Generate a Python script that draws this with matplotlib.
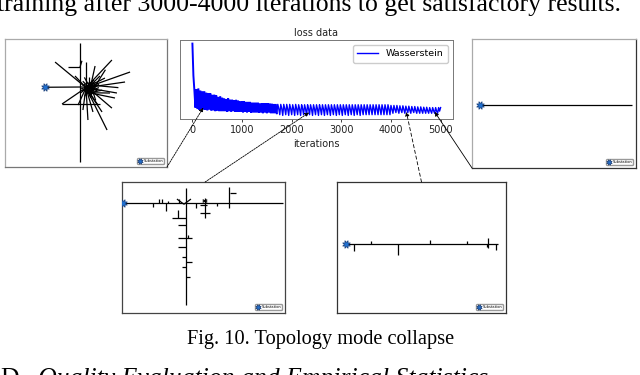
import matplotlib
matplotlib.use("Agg")
import matplotlib.pyplot as plt
from matplotlib.patches import ConnectionPatch

# ---------------- data ----------------
iterations = list(range(0, 5001, 20))
# dense, rapidly oscillating part (iterations 0 .. 1700)
loss_early = [
    1.00, 0.55, 0.34, 0.10,
    0.36, 0.08, 0.37, 0.07, 0.34, 0.08, 0.33, 0.07, 0.33, 0.07,
    0.31, 0.06, 0.30, 0.07, 0.30, 0.06, 0.28, 0.06, 0.28, 0.05,
    0.27, 0.06, 0.25, 0.05, 0.26, 0.05, 0.24, 0.05, 0.23, 0.05,
    0.22, 0.04, 0.23, 0.05, 0.21, 0.04, 0.21, 0.05, 0.20, 0.04,
    0.21, 0.04, 0.20, 0.04, 0.19, 0.04, 0.19, 0.03, 0.19, 0.04,
    0.18, 0.03, 0.18, 0.04, 0.18, 0.03, 0.17, 0.03, 0.17, 0.03,
    0.17, 0.03, 0.17, 0.03, 0.16, 0.03, 0.16, 0.02, 0.16, 0.03,
    0.16, 0.02, 0.16, 0.03, 0.155, 0.02, 0.155, 0.02, 0.15, 0.02,
    0.15, 0.02,
]
# comb-like part (iterations 1720 .. 5000)
loss_late = [
    0.145, 0.085, 0.00, 0.145, 0.085, -0.01, 0.145, 0.085, 0.00, 0.145, 0.08, -0.01,
    0.145, 0.085, 0.00, 0.14, 0.08, -0.01, 0.145, 0.085, 0.00, 0.14, 0.08, -0.01,
    0.14, 0.085, 0.00, 0.14, 0.08, -0.01, 0.14, 0.085, 0.00, 0.14, 0.08, -0.01,
    0.14, 0.08, 0.00, 0.14, 0.08, -0.01, 0.14, 0.085, 0.00, 0.14, 0.08, -0.01,
    0.14, 0.08, 0.00, 0.14, 0.08, -0.01, 0.14, 0.08, 0.00, 0.14, 0.08, -0.01,
    0.14, 0.08, 0.00, 0.14, 0.08, -0.01, 0.14, 0.08, 0.00, 0.14, 0.08, -0.01,
    0.14, 0.08, 0.00, 0.14, 0.08, -0.01, 0.14, 0.08, 0.00, 0.14, 0.08, -0.01,
    0.14, 0.08, 0.00, 0.14, 0.08, 0.00, 0.14, 0.08, 0.00, 0.14, 0.08, 0.00,
    0.14, 0.08, 0.00, 0.14, 0.08, 0.00, 0.14, 0.08, 0.00, 0.14, 0.08, 0.00,
    0.14, 0.08, 0.00, 0.14, 0.08, 0.00,
    0.13, 0.075, 0.02, 0.13, 0.075, 0.03, 0.13, 0.07, 0.02, 0.125, 0.07, 0.03,
    0.125, 0.07, 0.02, 0.12, 0.07, 0.03, 0.12, 0.065, 0.02, 0.115, 0.065, 0.03,
    0.115, 0.06, 0.02, 0.11, 0.06, 0.02, 0.11, 0.06, 0.02, 0.105, 0.06, 0.02,
    0.105, 0.055, 0.02, 0.10, 0.055, 0.02, 0.10, 0.055, 0.02, 0.10, 0.05, 0.02,
    0.10, 0.05, 0.10,
]
loss = loss_early + loss_late
split = len(loss_early)
x_ticks = [0, 1000, 2000, 3000, 4000, 5000]

arrow_iters = [220, 2350, 4310, 4880]
arrow_loss = [0.10, 0.03, 0.04, 0.04]

# panel graphs (coordinates in each panel's 0-100 space)
burst_star = (24.7, 62.3)
burst_segments = [
    (24.7, 62.3, 48.1, 62.5), (46.3, 96.9, 46.3, 3.9),
    (50, 62, 30.9, 82.0), (50, 62, 66.0, 83.6), (50, 62, 77.2, 74.2),
    (50, 62, 74.1, 66.4), (50, 62, 69.1, 57.8), (50, 62, 63.0, 28.9),
    (50, 62, 54.3, 43.0), (50, 62, 51.2, 36.7), (50, 62, 57.4, 48.4),
    (53, 64, 58.6, 71.1), (53, 64, 55.6, 78.9), (50, 62, 50.0, 82.0),
    (53, 64, 61.7, 69.5), (52, 58, 64.8, 57.8), (52, 58, 67.9, 53.9),
    (52, 58, 59.9, 43.0), (50, 62, 48.1, 44.5), (50, 62, 45.1, 48.4),
    (50, 62, 43.2, 71.1), (53, 64, 70.0, 62.0), (52, 58, 60.0, 60.0),
    (53, 64, 56.0, 52.0), (50, 62, 55.0, 68.0), (52, 58, 58.0, 65.0),
    (53, 64, 53.0, 56.0), (50, 62, 47.0, 58.0), (52, 58, 52.0, 70.0),
    (50, 62, 57.0, 60.0), (52, 58, 54.0, 66.0), (53, 64, 49.0, 55.0),
    (49, 60, 56.0, 63.0), (51, 66, 57.0, 59.0), (48, 64, 55.0, 57.0),
    (50, 57, 54.0, 67.0), (47, 61, 56.0, 66.0), (52, 62, 48.0, 67.0),
    (49, 65, 53.0, 54.0), (55, 60, 47.0, 60.0), (51, 59, 58.0, 62.0),
    (53, 61, 49.0, 70.0), (55, 62, 62.0, 76.0), (54, 59, 66.0, 46.0),
    (35.2, 49.2, 58.6, 49.2), (35.2, 49.2, 50.0, 62.0),
    (38.9, 78.1, 46.3, 78.1), (46.3, 78.1, 47.5, 83.0),
]

line_star = (4.9, 48.8)
line_segments = [(4.9, 48.8, 97.4, 48.8)]

tree_star = (0.8, 83.7)
tree_segments = [
    (0.8, 83.7, 98.6, 83.7), (39.3, 95.2, 39.3, 6.1),
    (65.8, 96.4, 65.8, 80.0), (66.3, 91.8, 70.0, 91.8),
    (19.2, 83.7, 19.2, 80.7), (22.9, 86.8, 22.9, 83.7), (24.4, 86.8, 24.4, 83.7),
    (27.0, 83.7, 27.0, 77.6), (28.4, 85.2, 28.4, 83.7), (35.2, 86.8, 35.2, 83.7),
    (33.7, 87.0, 38.0, 83.0), (42.3, 87.0, 38.0, 83.0),
    (45.4, 83.7, 45.4, 80.2),
    (50.9, 87.5, 50.9, 72.3), (47.9, 76.1, 54.0, 76.1), (47.9, 82.2, 52.1, 82.2),
    (49.5, 86.5, 52.3, 84.5), (49.5, 84.5, 52.3, 86.5),
    (58.1, 83.7, 58.1, 81.4),
    (30.5, 72.8, 39.3, 72.8), (34.5, 78.6, 34.5, 72.8), (34.5, 67.2, 39.3, 67.2),
    (34.5, 57.0, 42.7, 57.0), (40.7, 59.6, 40.7, 57.0), (34.5, 50.6, 39.3, 50.6),
    (36.6, 43.0, 39.3, 43.0), (39.3, 39.2, 42.7, 39.2), (36.6, 34.9, 39.3, 34.9),
    (39.3, 27.3, 41.7, 27.3),
]

chain_star = (5.3, 52.7)
chain_segments = [
    (5.3, 52.7, 95.4, 52.7),
    (10.1, 52.7, 10.1, 47.6), (19.9, 54.8, 19.9, 52.7), (36.3, 52.7, 36.3, 44.3),
    (55.0, 55.7, 55.0, 52.7), (76.7, 55.0, 76.7, 52.7), (89.6, 57.0, 89.6, 49.4),
    (88.6, 52.7, 88.6, 50.6), (93.9, 52.7, 93.9, 48.1),
]

# ---------------- figure ----------------
W, H = 640, 375
fig = plt.figure(figsize=(6.4, 3.75), dpi=100)


def box(l, t, r, b):
    return [l / W, 1 - b / H, (r - l) / W, (b - t) / H]


serif = "Liberation Serif"
fig.text(-0.004, 1 - 11 / H,
         "training after 3000-4000 iterations to get satisfactory results.",
         fontsize=18.5, family=serif, va="baseline", ha="left")
fig.text(321 / W, 1 - 344 / H, "Fig. 10. Topology mode collapse",
         fontsize=14.7, family=serif, va="baseline", ha="center")
fig.text(0.0, 1 - 385 / H, "D.", fontsize=18.5, family=serif, va="baseline")
fig.text(38 / W, 1 - 385 / H, "Quality Evaluation and Empirical Statistics",
         fontsize=18.5, family=serif, style="italic", va="baseline")

# loss chart
ax = fig.add_axes(box(180, 40, 453, 119))
ax.plot(iterations[:split], loss[:split], color="blue", lw=1.4,
        label="Wasserstein", solid_joinstyle="miter")
ax.plot(iterations[split - 1:], loss[split - 1:], color="blue", lw=1.0)
ax.set_xticks(x_ticks)
ax.set_yticks([])
ax.tick_params(labelsize=7, length=2.5, width=0.6, pad=1.5, colors="#222")
ax.set_xlabel("iterations", fontsize=7, labelpad=3, color="#222")
ax.set_title("loss data", fontsize=7, pad=3, color="#222")
for s in ax.spines.values():
    s.set_color("#777")
    s.set_linewidth(0.7)
leg = ax.legend(loc="upper right", fontsize=6.8, handlelength=2.2,
                borderpad=0.5, framealpha=1, edgecolor="#ccc")
for h in leg.get_lines():
    h.set_linewidth(1.0)


def panel(rect, star, segments, edge, bottom_edge):
    p = fig.add_axes(box(*rect))
    p.set_xlim(0, 100)
    p.set_ylim(0, 100)
    p.set_xticks([])
    p.set_yticks([])
    for name, s in p.spines.items():
        s.set_color(bottom_edge if name in ("bottom", "right") else edge)
        s.set_linewidth(0.9)
    for x0, y0, x1, y1 in segments:
        p.plot([x0, x1], [y0, y1], color="black", lw=0.9, solid_capstyle="butt")
    p.plot([star[0]], [star[1]], ls="none", marker=(8, 1, 22.5), ms=6,
           mfc="#2070d0", mec="#1a3f7a", mew=0.5, label="Substation", zorder=5)
    p.legend(loc="lower right", fontsize=2.6, handlelength=1.0, markerscale=0.7,
             borderpad=0.3, handletextpad=0.5, borderaxespad=0.8,
             framealpha=1, edgecolor="#999", fancybox=True)
    return p


p1 = panel((5, 39, 167, 167), burst_star, burst_segments, "#aaa", "#777")
p2 = panel((472, 39, 636, 168), line_star, line_segments, "#aaa", "#333")
p3 = panel((122, 182, 285, 313), tree_star, tree_segments, "#444", "#444")
p4 = panel((337, 182, 506, 313), chain_star, chain_segments, "#333", "#333")

sources = [(p1, (1.0, 0.0)), (p3, (0.51, 1.0)), (p4, (0.50, 1.0)), (p2, (0.0, 0.0))]
styles = [(0, (2, 1.2)), (0, (2, 1.2)), (0, (4, 3)), "-"]
for (pan, xy), it, lv, ls in zip(sources, arrow_iters, arrow_loss, styles):
    con = ConnectionPatch(xyA=xy, coordsA=pan.transAxes, xyB=(it, lv),
                          coordsB=ax.transData, arrowstyle="-|>",
                          mutation_scale=6, lw=0.6, color="black",
                          linestyle=ls, shrinkA=0, shrinkB=0, zorder=10)
    fig.add_artist(con)

fig.savefig("out.png", dpi=100)
